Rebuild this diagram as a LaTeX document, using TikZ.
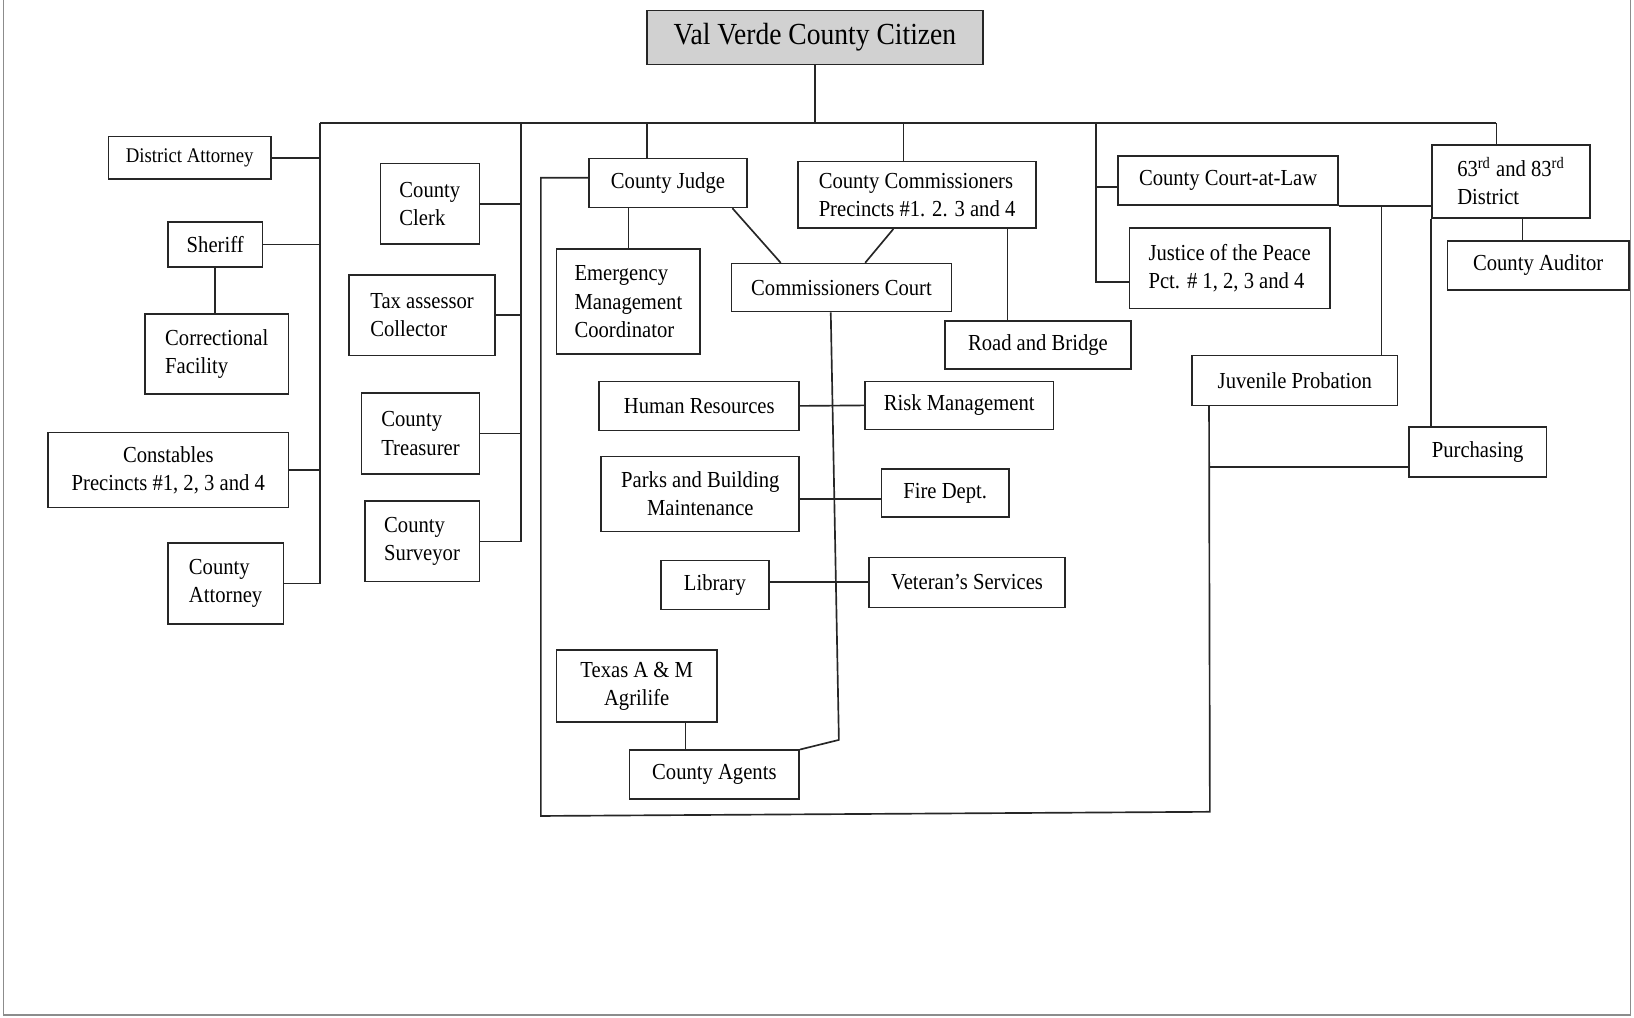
\documentclass[tikz,border=0pt]{standalone}
\usepackage{fontspec}
\setmainfont{Liberation Serif}[FakeStretch=0.9]
\newcommand{\bx}[7][]{\node[box,#1,minimum width={(#5-#3)*0.5pt},minimum height={(#6-#4)*0.5pt}] (#2) at ({(#3+#5)/2},{(#4+#6)/2}) {#7};}
\begin{document}
\begin{tikzpicture}[x=0.5pt,y=-0.5pt,
 box/.style={draw=black!85,line width=0.8pt,inner sep=0pt,font=\fontsize{11}{13.5}\selectfont,align=center},
 lt/.style={align=left},
 conn/.style={draw=black!85,line width=0.8pt},
 pageline/.style={draw=black!45,line width=0.5pt}]
\useasboundingbox (0,0) rectangle (1568,976);
\draw[pageline] (3,0) -- (3,974) -- (1565,974) -- (1565,0);

\bx[fill=black!18,font=\fontsize{14.7}{17}\selectfont]{t}{621}{10}{943}{62}{Val Verde County Citizen}
\bx[font=\fontsize{10}{12}\selectfont]{da}{104}{131}{260}{172}{District Attorney}
\bx{sh}{161}{213}{252}{256}{Sheriff}
\bx[lt]{cf}{139}{301}{277}{378}{Correctional\\Facility}
\bx{con}{46}{415}{277}{487}{Constables\\Precincts \#1, 2, 3 and 4}
\bx[lt]{cat}{161}{521}{272}{599}{County\\Attorney}
\bx[lt]{clk}{365}{157}{460}{234}{County\\Clerk}
\bx[lt]{tax}{335}{264}{475}{341}{Tax assessor\\Collector}
\bx[lt]{tre}{347}{377}{460}{455}{County\\Treasurer}
\bx[lt]{sur}{350}{481}{460}{558}{County\\Surveyor}
\bx{cj}{565}{152}{717}{199}{County Judge}
\bx[lt]{em}{534}{239}{672}{340}{Emergency\\Management\\Coordinator}
\bx{cc}{702}{253}{913}{299}{Commissioners Court}
\bx[lt]{cco}{766}{155}{994}{219}{County Commissioners\\Precincts \#1. 2. 3 and 4}
\bx{rb}{907}{308}{1085}{354}{Road and Bridge}
\bx{hr}{575}{366}{767}{413}{Human Resources}
\bx{rm}{830}{366}{1011}{412}{Risk Management}
\bx{pb}{577}{438}{767}{510}{Parks and Building\\Maintenance}
\bx{fd}{846}{450}{968}{496}{Fire Dept.}
\bx{lib}{634}{538}{738}{585}{Library}
\bx{vs}{834}{535}{1022}{583}{Veteran’s Services}
\bx{tx}{534}{624}{688}{693}{Texas A \& M\\Agrilife}
\bx{ag}{604}{720}{767}{767}{County Agents}
\bx{cl}{1073}{150}{1284}{197}{County Court-at-Law}
\bx[lt]{jp}{1084}{219}{1276}{296}{Justice of the Peace\\Pct. \# 1, 2, 3 and 4}
\bx[lt]{d63}{1374}{139}{1526}{209}{63\textsuperscript{rd} and 83\textsuperscript{rd}\\District}
\bx{au}{1389}{231}{1563}{278}{County Auditor}
\bx{jv}{1144}{341}{1341}{389}{Juvenile Probation}
\bx{pu}{1352}{410}{1484}{458}{Purchasing}

\coordinate (bL) at (307,118);
\coordinate (bB) at (500,118);
\coordinate (bJ) at (621,118);
\coordinate (bC) at (867,118);
\coordinate (bD) at (1052,118);
\coordinate (bR) at (1436,118);
\coordinate (cbend) at (805,710);
\coordinate (lb1) at (519,783);
\coordinate (lb2) at (1161,779);

\draw[conn] (t.south) -- (t.south |- bL);
\draw[conn] (bL) -- (bR);
\draw[conn] (bL) |- (cat.east);
\draw[conn] (da.east) -- (da.east -| bL);
\draw[conn] (sh.east) -- (sh.east -| bL);
\draw[conn] (con.east) -- (con.east -| bL);
\draw[conn] (sh.south) -- (sh.south |- cf.north);
\draw[conn] (bB) |- (sur.east);
\draw[conn] (clk.east) -- (clk.east -| bB);
\draw[conn] (tax.east) -- (tax.east -| bB);
\draw[conn] (tre.east) -- (tre.east -| bB);
\draw[conn] (bJ) -- (bJ |- cj.north);
\draw[conn] (bC) -- (bC |- cco.north);
\draw[conn] (bD) |- ([yshift=13pt]jp.south west);
\draw[conn] ([yshift=-3pt]cl.west -| bD) -- ([yshift=-3pt]cl.west);
\draw[conn] (bR) -- (bR |- d63.north);

\draw[conn] (cj.south -| em.north) -- (em.north);
\draw[conn] ([xshift=-7.5pt]cj.south east) -- ([xshift=24pt]cc.north west);
\draw[conn] ([xshift=46pt]cco.south west) -- ([xshift=64.5pt]cc.north west);
\draw[conn] ([xshift=-14pt]cco.south east) -- ([xshift=-14pt]cco.south east |- rb.north);
\draw[conn] ([xshift=48pt]cc.south west) -- (cbend) -- (ag.north east);
\draw[conn] (hr.east) -- (rm.west);
\draw[conn] ([yshift=-2.5pt]pb.east) -- ([yshift=-2.5pt]pb.east -| fd.west);
\draw[conn] ([yshift=1.5pt]lib.east) -- ([yshift=1.5pt]lib.east -| vs.west);
\draw[conn] ([xshift=-15.5pt]tx.south east) -- ([xshift=-15.5pt]tx.south east |- ag.north);

\draw[conn] ([yshift=2.5pt]cj.west) -| (lb1) -- (lb2) -- ([xshift=8.5pt]jv.south west);
\draw[conn] ([yshift=-7pt]pu.west) -- ([yshift=-7pt]pu.west -| lb2);

\draw[conn] (cl.south east) -- (cl.south east -| d63.west);
\draw[conn] ([xshift=-8pt]jv.north east) -- ([xshift=-8pt]jv.north east |- cl.south east);
\draw[conn] ([xshift=5.5pt]d63.south) -- ([xshift=5.5pt]d63.south |- au.north);
\draw[conn] (d63.south west) -- (d63.south west |- pu.north);
\end{tikzpicture}
\end{document}
